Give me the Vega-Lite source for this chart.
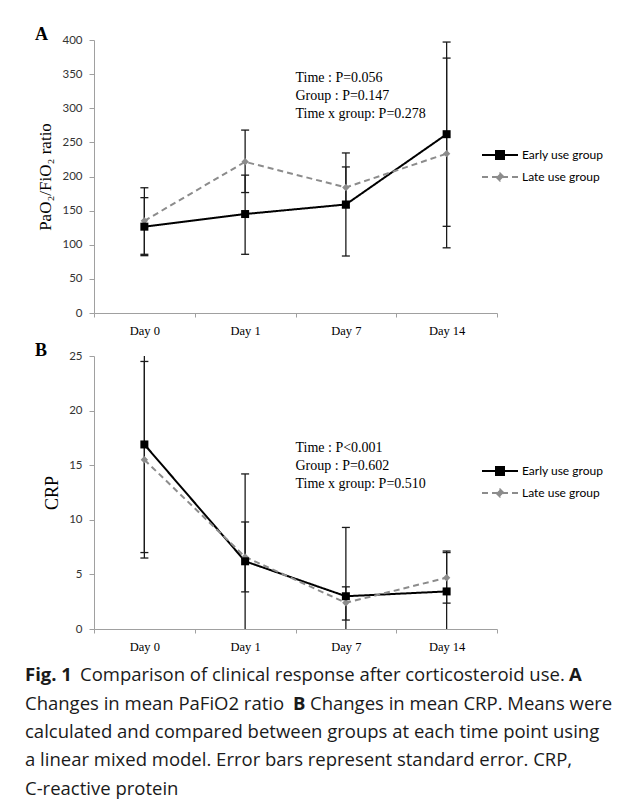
{
  "$schema": "https://vega.github.io/schema/vega-lite/v6.json",
  "background": "white",
  "padding": {"left": 25, "top": 26, "right": 5, "bottom": 0},
  "bounds": "flush",
  "spacing": 43,
  "resolve": {"scale": {"color": "independent", "strokeDash": "independent"}, "legend": {"color": "independent"}},
  "config": {
    "view": {"stroke": null},
    "axisX": {"labelAngle": 0, "tickBand": "extent", "domainColor": "#a0a0a0", "tickColor": "#a0a0a0", "tickSize": 4, "labelFont": "Liberation Serif", "labelFontSize": 12.5, "labelColor": "#000000", "labelPadding": 7, "grid": false},
    "axisY": {"grid": false, "labelOverlap": false, "domainColor": "#a0a0a0", "tickColor": "#a0a0a0", "tickSize": 5, "labelFont": "Lato", "labelFontSize": 11.5, "labelColor": "#333333", "labelPadding": 7, "titleFont": "Liberation Serif", "titleFontWeight": "normal", "titleColor": "#000000", "titlePadding": 7},
    "title": {"font": "Liberation Serif", "fontSize": 18, "fontWeight": "bold", "anchor": "start", "frame": "group", "color": "#000000", "offset": 0, "baseline": "alphabetic"},
    "legend": {"title": null, "orient": "none", "padding": 0, "symbolSize": 144, "symbolStrokeWidth": 2, "labelOffset": 15, "rowPadding": 5, "labelFont": "Lato", "labelFontSize": 12, "labelColor": "#000000"}
  },
  "datasets": {
    "pf": [
      {"day": "Day 0", "group": "Early use group", "mean": 126.5, "lo": 84, "hi": 169},
      {"day": "Day 1", "group": "Early use group", "mean": 145, "lo": 86, "hi": 202},
      {"day": "Day 7", "group": "Early use group", "mean": 159, "lo": 83.5, "hi": 234.5},
      {"day": "Day 14", "group": "Early use group", "mean": 262, "lo": 127, "hi": 397},
      {"day": "Day 0", "group": "Late use group", "mean": 135, "lo": 86, "hi": 183.5},
      {"day": "Day 1", "group": "Late use group", "mean": 221.5, "lo": 176.5, "hi": 268},
      {"day": "Day 7", "group": "Late use group", "mean": 184, "lo": 154, "hi": 214},
      {"day": "Day 14", "group": "Late use group", "mean": 233.5, "lo": 95.5, "hi": 373.5}
    ],
    "crp": [
      {"day": "Day 0", "group": "Early use group", "mean": 16.9, "lo": 6.5, "hi": 27.3},
      {"day": "Day 1", "group": "Early use group", "mean": 6.2, "lo": -1.8, "hi": 14.2},
      {"day": "Day 7", "group": "Early use group", "mean": 3.0, "lo": -3.3, "hi": 9.3},
      {"day": "Day 14", "group": "Early use group", "mean": 3.44, "lo": -0.2, "hi": 7.0},
      {"day": "Day 0", "group": "Late use group", "mean": 15.5, "lo": 7.0, "hi": 24.5},
      {"day": "Day 1", "group": "Late use group", "mean": 6.6, "lo": 3.4, "hi": 9.8},
      {"day": "Day 7", "group": "Late use group", "mean": 2.4, "lo": 0.82, "hi": 3.86},
      {"day": "Day 14", "group": "Late use group", "mean": 4.7, "lo": 2.37, "hi": 7.14}
    ],
    "caption": [
      {"line": 1, "part": "bold0", "text": "Fig. 1"},
      {"line": 1, "part": "l1rest", "text": "Comparison of clinical response after corticosteroid use."},
      {"line": 1, "part": "boldA", "text": "A"},
      {"line": 2, "part": "start", "text": "Changes in mean PaFiO2 ratio"},
      {"line": 2, "part": "boldB", "text": "B"},
      {"line": 2, "part": "l2rest", "text": "Changes in mean CRP. Means were"},
      {"line": 3, "part": "start", "text": "calculated and compared between groups at each time point using"},
      {"line": 4, "part": "start", "text": "a linear mixed model. Error bars represent standard error. CRP,"},
      {"line": 5, "part": "start", "text": "C-reactive protein"}
    ]
  },
  "vconcat": [
    {
      "width": 403,
      "height": 273,
      "data": {"name": "pf"},
      "title": {"text": "A", "dx": -59, "dy": 14},
      "encoding": {
        "x": {"field": "day", "type": "ordinal", "sort": ["Day 0", "Day 1", "Day 7", "Day 14"], "scale": {"paddingInner": 0, "paddingOuter": 0}, "axis": {"title": null}}
      },
      "layer": [
        {
          "mark": {"type": "line", "strokeWidth": 2},
          "encoding": {
            "y": {"field": "mean", "type": "quantitative", "scale": {"domain": [0, 400], "nice": false}, "axis": {"title": "PaO₂/FiO₂ ratio", "titleFontSize": 17, "values": [0, 50, 100, 150, 200, 250, 300, 350, 400], "tickCount": 12}},
            "color": {"field": "group", "type": "nominal", "scale": {"domain": ["Early use group", "Late use group"], "range": ["#000000", "#8c8c8c"]},
              "legend": {"legendX": 399, "legendY": 108,
                "encode": {"symbols": {"update": {
                  "shape": {"signal": "datum.value === 'Early use group' ? 'M-3,0H3M-0.67,-0.67H0.67V0.67H-0.67Z' : 'M-3,0H3M0,-0.6L0.6,0L0,0.6L-0.6,0Z'"},
                  "fill": {"signal": "datum.value === 'Early use group' ? '#000000' : '#8c8c8c'"},
                  "stroke": {"signal": "datum.value === 'Early use group' ? '#000000' : '#8c8c8c'"},
                  "strokeDash": {"signal": "datum.value === 'Early use group' ? [1, 0] : [4, 3]"},
                  "strokeWidth": {"value": 2},
                  "opacity": {"value": 1},
                  "fillOpacity": {"value": 1}
                }}}
              }},
            "strokeDash": {"field": "group", "type": "nominal", "scale": {"domain": ["Early use group", "Late use group"], "range": [[1, 0], [6, 4]]}, "legend": null}
          }
        },
        {
          "mark": {"type": "rule", "clip": true, "color": "#1a1a1a", "strokeWidth": 1.3},
          "encoding": {"y": {"field": "lo", "type": "quantitative", "axis": {"title": "PaO₂/FiO₂ ratio", "titleFontSize": 17, "values": [0, 50, 100, 150, 200, 250, 300, 350, 400], "tickCount": 12}}, "y2": {"field": "hi"}}
        },
        {
          "mark": {"type": "tick", "clip": true, "color": "#1a1a1a", "thickness": 1.3, "size": 8, "opacity": 1},
          "encoding": {"y": {"field": "lo", "type": "quantitative", "axis": {"title": "PaO₂/FiO₂ ratio", "titleFontSize": 17, "values": [0, 50, 100, 150, 200, 250, 300, 350, 400], "tickCount": 12}}}
        },
        {
          "mark": {"type": "tick", "clip": true, "color": "#1a1a1a", "thickness": 1.3, "size": 8, "opacity": 1},
          "encoding": {"y": {"field": "hi", "type": "quantitative", "axis": {"title": "PaO₂/FiO₂ ratio", "titleFontSize": 17, "values": [0, 50, 100, 150, 200, 250, 300, 350, 400], "tickCount": 12}}}
        },
        {
          "transform": [{"filter": "datum.group === 'Late use group'"}],
          "mark": {"type": "point", "filled": true, "opacity": 1, "size": 55, "shape": "diamond"},
          "encoding": {
            "y": {"field": "mean", "type": "quantitative", "axis": {"title": "PaO₂/FiO₂ ratio", "titleFontSize": 17, "values": [0, 50, 100, 150, 200, 250, 300, 350, 400], "tickCount": 12}},
            "color": {"field": "group", "type": "nominal"}
          }
        },
        {
          "transform": [{"filter": "datum.group === 'Early use group'"}],
          "mark": {"type": "point", "filled": true, "opacity": 1, "size": 64, "shape": "square"},
          "encoding": {
            "y": {"field": "mean", "type": "quantitative", "axis": {"title": "PaO₂/FiO₂ ratio", "titleFontSize": 17, "values": [0, 50, 100, 150, 200, 250, 300, 350, 400], "tickCount": 12}},
            "color": {"field": "group", "type": "nominal"}
          }
        },
        {
          "data": {"values": [{"note": "p"}]},
          "mark": {"type": "text", "align": "left", "baseline": "middle", "font": "Liberation Serif", "fontSize": 14, "lineHeight": 18, "color": "#000000", "text": ["Time : P=0.056", "Group : P=0.147", "Time x group: P=0.278"]},
          "encoding": {"x": {"datum": "Day 7", "type": "ordinal", "bandPosition": 0}, "y": {"datum": 344, "type": "quantitative", "axis": {"title": "PaO₂/FiO₂ ratio", "titleFontSize": 17, "values": [0, 50, 100, 150, 200, 250, 300, 350, 400], "tickCount": 12}}}
        }
      ]
    },
    {
      "width": 403,
      "height": 273,
      "data": {"name": "crp"},
      "title": {"text": "B", "dx": -59, "dy": 14},
      "encoding": {
        "x": {"field": "day", "type": "ordinal", "sort": ["Day 0", "Day 1", "Day 7", "Day 14"], "scale": {"paddingInner": 0, "paddingOuter": 0}, "axis": {"title": null}}
      },
      "layer": [
        {
          "mark": {"type": "line", "strokeWidth": 2},
          "encoding": {
            "y": {"field": "mean", "type": "quantitative", "scale": {"domain": [0, 25], "nice": false}, "axis": {"title": "CRP", "titleFontSize": 18, "values": [0, 5, 10, 15, 20, 25], "tickCount": 12}},
            "color": {"field": "group", "type": "nominal", "scale": {"domain": ["Early use group", "Late use group"], "range": ["#000000", "#8c8c8c"]},
              "legend": {"legendX": 399, "legendY": 108,
                "encode": {"symbols": {"update": {
                  "shape": {"signal": "datum.value === 'Early use group' ? 'M-3,0H3M-0.67,-0.67H0.67V0.67H-0.67Z' : 'M-3,0H3M0,-0.6L0.6,0L0,0.6L-0.6,0Z'"},
                  "fill": {"signal": "datum.value === 'Early use group' ? '#000000' : '#8c8c8c'"},
                  "stroke": {"signal": "datum.value === 'Early use group' ? '#000000' : '#8c8c8c'"},
                  "strokeDash": {"signal": "datum.value === 'Early use group' ? [1, 0] : [4, 3]"},
                  "strokeWidth": {"value": 2},
                  "opacity": {"value": 1},
                  "fillOpacity": {"value": 1}
                }}}
              }},
            "strokeDash": {"field": "group", "type": "nominal", "scale": {"domain": ["Early use group", "Late use group"], "range": [[1, 0], [6, 4]]}, "legend": null}
          }
        },
        {
          "mark": {"type": "rule", "clip": true, "color": "#1a1a1a", "strokeWidth": 1.3},
          "encoding": {"y": {"field": "lo", "type": "quantitative"}, "y2": {"field": "hi"}}
        },
        {
          "mark": {"type": "tick", "clip": true, "color": "#1a1a1a", "thickness": 1.3, "size": 8, "opacity": 1},
          "encoding": {"y": {"field": "lo", "type": "quantitative"}}
        },
        {
          "mark": {"type": "tick", "clip": true, "color": "#1a1a1a", "thickness": 1.3, "size": 8, "opacity": 1},
          "encoding": {"y": {"field": "hi", "type": "quantitative"}}
        },
        {
          "transform": [{"filter": "datum.group === 'Late use group'"}],
          "mark": {"type": "point", "filled": true, "opacity": 1, "size": 55, "shape": "diamond"},
          "encoding": {
            "y": {"field": "mean", "type": "quantitative"},
            "color": {"field": "group", "type": "nominal"}
          }
        },
        {
          "transform": [{"filter": "datum.group === 'Early use group'"}],
          "mark": {"type": "point", "filled": true, "opacity": 1, "size": 64, "shape": "square"},
          "encoding": {
            "y": {"field": "mean", "type": "quantitative"},
            "color": {"field": "group", "type": "nominal"}
          }
        },
        {
          "data": {"values": [{"note": "p"}]},
          "mark": {"type": "text", "align": "left", "baseline": "middle", "font": "Liberation Serif", "fontSize": 14, "lineHeight": 18, "color": "#000000", "text": ["Time : P<0.001", "Group : P=0.602", "Time x group: P=0.510"]},
          "encoding": {"x": {"datum": "Day 7", "type": "ordinal", "bandPosition": 0}, "y": {"datum": 16.6, "type": "quantitative"}}
        }
      ]
    },
    {
      "width": 403,
      "height": 132,
      "data": {"name": "caption"},
      "encoding": {
        "y": {"field": "line", "type": "ordinal", "axis": null, "scale": {"type": "point", "padding": 0.3158}}
      },
      "layer": [
        {
          "transform": [{"filter": "datum.part === 'start'"}],
          "mark": {"type": "text", "align": "left", "baseline": "alphabetic", "font": "Open Sans", "fontSize": 18.5, "color": "#1a1a1a"},
          "encoding": {"x": {"value": -69}, "text": {"field": "text"}}
        },
        {
          "transform": [{"filter": "datum.part === 'bold0'"}],
          "mark": {"type": "text", "align": "left", "baseline": "alphabetic", "font": "Open Sans", "fontSize": 18.5, "fontWeight": "bold", "color": "#1a1a1a"},
          "encoding": {"x": {"value": -69}, "text": {"field": "text"}}
        },
        {
          "transform": [{"filter": "datum.part === 'l1rest'"}],
          "mark": {"type": "text", "align": "left", "baseline": "alphabetic", "font": "Open Sans", "fontSize": 18.5, "color": "#1a1a1a"},
          "encoding": {"x": {"value": -14}, "text": {"field": "text"}}
        },
        {
          "transform": [{"filter": "datum.part === 'boldA'"}],
          "mark": {"type": "text", "align": "left", "baseline": "alphabetic", "font": "Open Sans", "fontSize": 18.5, "fontWeight": "bold", "color": "#1a1a1a"},
          "encoding": {"x": {"value": 475}, "text": {"field": "text"}}
        },
        {
          "transform": [{"filter": "datum.part === 'boldB'"}],
          "mark": {"type": "text", "align": "left", "baseline": "alphabetic", "font": "Open Sans", "fontSize": 18.5, "fontWeight": "bold", "color": "#1a1a1a"},
          "encoding": {"x": {"value": 199}, "text": {"field": "text"}}
        },
        {
          "transform": [{"filter": "datum.part === 'l2rest'"}],
          "mark": {"type": "text", "align": "left", "baseline": "alphabetic", "font": "Open Sans", "fontSize": 18.5, "color": "#1a1a1a"},
          "encoding": {"x": {"value": 216}, "text": {"field": "text"}}
        }
      ]
    }
  ]
}
